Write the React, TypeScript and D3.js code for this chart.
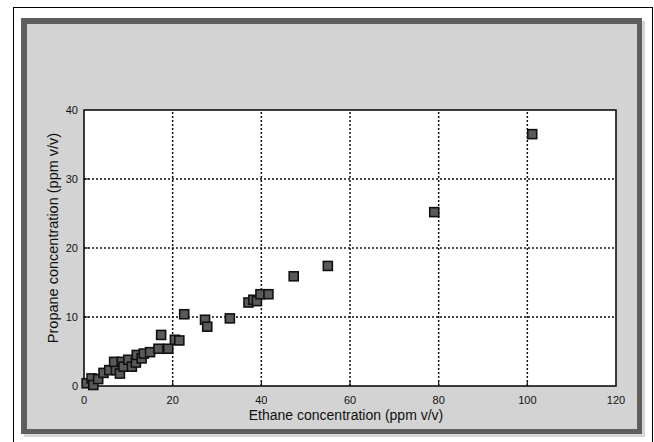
import React from "react";
import * as d3 from "d3";

const ethane = [0.6, 1.7, 2.1, 3.2, 4.4, 5.7, 7.2, 6.8, 8.1, 8.5, 8.9, 10.0, 10.8, 11.7, 11.9, 13.0, 13.5, 14.9, 16.8, 17.4, 19.0, 20.5, 21.5, 22.6, 27.3, 27.8, 32.9, 37.1, 38.2, 39.0, 39.8, 41.6, 47.3, 55.0, 79.0, 101.1];
const propane = [0.4, 1.1, 0.15, 1.0, 1.9, 2.3, 2.3, 3.5, 1.8, 3.5, 2.8, 3.8, 2.8, 3.4, 4.5, 4.0, 4.7, 4.9, 5.4, 7.4, 5.4, 6.7, 6.6, 10.4, 9.6, 8.6, 9.8, 12.1, 12.5, 12.3, 13.3, 13.3, 15.9, 17.4, 25.2, 36.5];
const xTicks = [0, 20, 40, 60, 80, 100, 120];
const yTicks = [0, 10, 20, 30, 40];
const xTitle = "Ethane concentration (ppm v/v)";
const yTitle = "Propane concentration (ppm v/v)";

export default function App() {
  const W = 654, H = 442;
  const L = 84, R = 616, T = 110, B = 386;
  const x = d3.scaleLinear().domain([0, 120]).range([L, R]);
  const y = d3.scaleLinear().domain([0, 40]).range([B, T]);
  const font = "'Liberation Sans', Arial, sans-serif";
  const pts = ethane.map((e, i) => ({ e, p: propane[i] }));
  const s = 9;
  return (
    <svg width={W} height={H} style={{ position: "absolute", left: 0, top: 0 }}>
      <rect x={0} y={0} width={W} height={H} fill="#fff" />
      <rect x={13.5} y={7.5} width={639} height={436} fill="#fff" stroke="#000" strokeWidth={1} />
      <rect x={24} y={21} width={621} height={416} fill="#d6d6d6" />
      <rect x={21} y={18} width={621} height={416} fill="#5e5e5e" />
      <rect x={27} y={24} width={610} height={405} fill="#d3d3d3" />
      <rect x={L} y={T} width={R - L} height={B - T} fill="#fff" />
      {xTicks.filter(t => t > 0 && t < 120).map(t => (
        <g key={"gx" + t}>
          <line x1={x(t)} x2={x(t)} y1={B} y2={T} stroke="#111" strokeWidth={1.5} strokeDasharray="2,2" />
          <line x1={x(t)} x2={x(t)} y1={B} y2={B - 5} stroke="#111" strokeWidth={1.2} />
        </g>
      ))}
      {yTicks.filter(t => t > 0 && t < 40).map(t => (
        <g key={"gy" + t}>
          <line x1={L} x2={R} y1={y(t)} y2={y(t)} stroke="#111" strokeWidth={1.5} strokeDasharray="2,2" />
          <line x1={L} x2={L + 5} y1={y(t)} y2={y(t)} stroke="#111" strokeWidth={1.2} />
        </g>
      ))}
      <rect x={L} y={T} width={R - L} height={B - T} fill="none" stroke="#000" strokeWidth={1.5} />
      {xTicks.map(t => (
        <text key={"tx" + t} x={x(t)} y={404} textAnchor="middle" fontFamily={font} fontSize={11} fill="#111">{t}</text>
      ))}
      {yTicks.map(t => (
        <text key={"ty" + t} x={78} y={y(t) + 4} textAnchor="end" fontFamily={font} fontSize={11} fill="#111">{t}</text>
      ))}
      <text x={346} y={420} textAnchor="middle" fontFamily={font} fontSize={14} fill="#111">{xTitle}</text>
      <text transform={`translate(58,238) rotate(-90)`} textAnchor="middle" fontFamily={font} fontSize={14.5} fill="#111">{yTitle}</text>
      {pts.map((d, i) => (
        <rect key={"p" + i} x={x(d.e) - s / 2} y={y(d.p) - s / 2} width={s} height={s} fill="#5a5a5a" stroke="#111" strokeWidth={1.6} />
      ))}
    </svg>
  );
}
